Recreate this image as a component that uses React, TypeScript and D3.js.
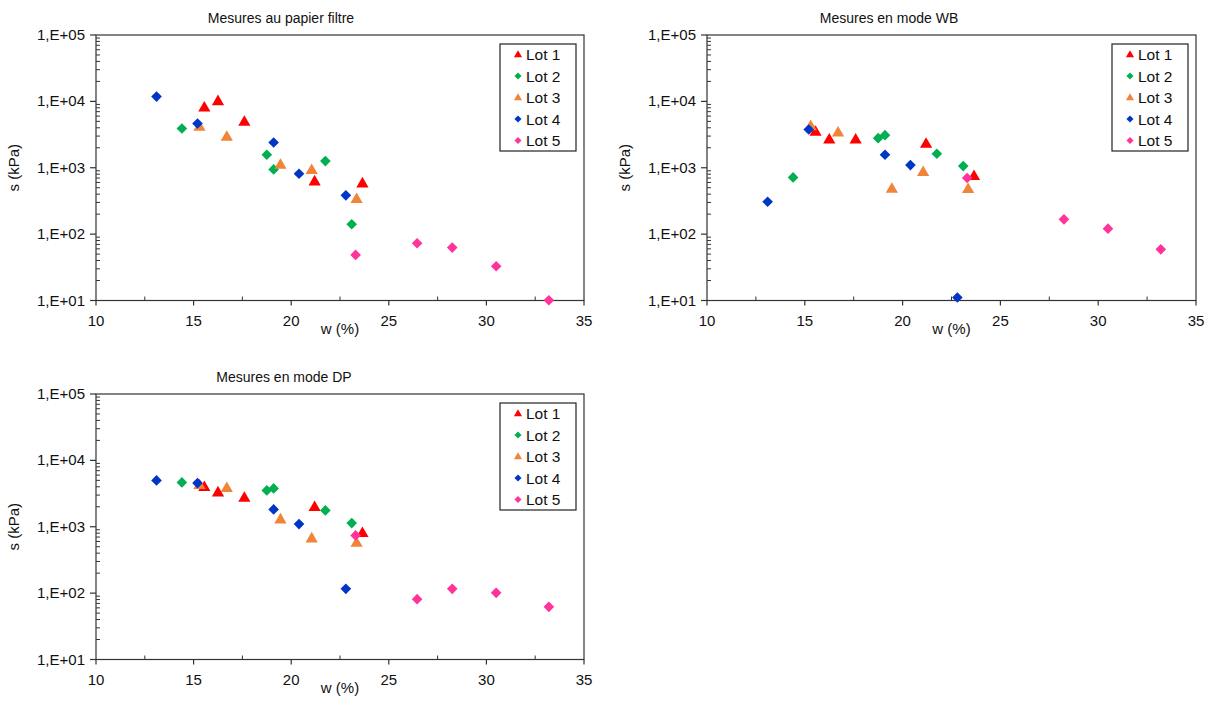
import React from "react";
import * as d3 from "d3";

const lots = ["Lot 1", "Lot 2", "Lot 3", "Lot 4", "Lot 5"];
const lotColors = ["#FF0000", "#00B050", "#F0853A", "#0036C8", "#FF3399"];
const lotShapes = ["triangle", "diamond", "triangle", "diamond", "diamond"];

// water content w (%) per lot (same samples for all three methods)
const wLot1 = [15.55, 16.25, 17.6, 21.2, 23.65];
const wLot2 = [14.4, 18.75, 19.1, 21.75, 23.1];
const wLot3 = [15.3, 16.7, 19.45, 21.05, 23.35];
const wLot4 = [13.1, 15.2, 19.1, 20.4, 22.8];
const wLot5 = [23.3, 26.45, 28.25, 30.5, 33.2];

// Suction s (kPa) - filter paper
const papierLot1 = [8070, 10070, 4920, 622, 581];
const papierLot2 = [3900, 1567, 944, 1260, 141];
const papierLot3 = [4140, 2925, 1110, 922, 338];
const papierLot4 = [11800, 4640, 2400, 813, 384];
const papierLot5 = [48.6, 72.8, 62.7, 32.8, 10.1];

// WB mode
const wbLot1 = [3480, 2667, 2667, 2296, 750];
const wbLot2 = [716, 2794, 3100, 1625, 1060];
const wbLot3 = [4235, 3400, 483, 861, 478];
const wbLot4 = [308, 3770, 1568, 1097, 11.1];
const wbW5 = [23.3, 28.25, 30.5, 33.2];
const wbLot5 = [700, 167, 121, 59];

// DP mode
const dpLot1 = [3963, 3294, 2737, 1980, 803];
const dpLot2 = [4660, 3530, 3785, 1763, 1136];
const dpLot3 = [4250, 3830, 1290, 667, 574];
const dpLot4 = [4990, 4550, 1825, 1097, 116];
const dpLot5 = [740, 81.2, 116, 101, 62.2];

const xTicks = [10, 15, 20, 25, 30, 35];
const xMinorTicks = [12.5, 17.5, 22.5, 27.5, 32.5];
const yTicks = [10, 100, 1000, 10000, 100000];
const yTickLabels = ["1,E+01", "1,E+02", "1,E+03", "1,E+04", "1,E+05"];

const titles = ["Mesures au papier filtre", "Mesures en mode WB", "Mesures en mode DP"];
const xLabel = "w (%)";
const yLabel = "s (kPa)";

type Series = { w: number[]; s: number[] };

const FONT = "'Liberation Sans', Arial, sans-serif";

function Marker({ shape, color, x, y, size }: { shape: string; color: string; x: number; y: number; size: number }) {
  const sym = shape === "triangle" ? d3.symbolTriangle : d3.symbolDiamond2;
  const area = shape === "triangle" ? size * size * 0.45 : size * size * 0.5;
  const path = d3.symbol().type(sym).size(area)() as string;
  const dy = shape === "triangle" ? 0.5 : 0;
  return <path d={path} transform={`translate(${x},${y + dy})`} fill={color} />;
}

function Panel({ x0, x1, y0, y1, title, titleX, series }: {
  x0: number; x1: number; y0: number; y1: number; title: string; titleX: number; series: Series[];
}) {
  const xs = d3.scaleLinear().domain([10, 35]).range([x0, x1]);
  const ys = d3.scaleLog().domain([10, 100000]).range([y1, y0]);
  const minorY: number[] = [];
  for (let p = 1; p < 5; p++) {
    for (let m = 2; m <= 9; m++) minorY.push(m * Math.pow(10, p));
  }
  const midX = (x0 + x1) / 2;
  const midY = (y0 + y1) / 2;
  const legX = x1 - 84;
  const legY = y0 + 9;
  return (
    <g fontFamily={FONT}>
      <text x={titleX} y={y0 - 12} textAnchor="middle" fontSize={14} fill="#111">{title}</text>
      <rect x={x0} y={y0} width={x1 - x0} height={y1 - y0} fill="none" stroke="#333" strokeWidth={1.2} />
      {minorY.map((v, i) => (
        <line key={"my" + i} x1={x0} x2={x0 + 4} y1={ys(v)} y2={ys(v)} stroke="#333" strokeWidth={1} />
      ))}
      {yTicks.map((v, i) => (
        <g key={"y" + i}>
          <line x1={x0 - 6} x2={x0} y1={ys(v)} y2={ys(v)} stroke="#333" strokeWidth={1.2} />
          <text x={x0 - 11} y={ys(v) + 5} textAnchor="end" fontSize={15} fill="#111">{yTickLabels[i]}</text>
        </g>
      ))}
      {xMinorTicks.map((v, i) => (
        <line key={"mx" + i} x1={xs(v)} x2={xs(v)} y1={y1 - 4} y2={y1} stroke="#333" strokeWidth={1} />
      ))}
      {xTicks.map((v, i) => (
        <g key={"x" + i}>
          <line x1={xs(v)} x2={xs(v)} y1={y1} y2={y1 + 5} stroke="#333" strokeWidth={1.2} />
          <text x={xs(v)} y={y1 + 25} textAnchor="middle" fontSize={15} fill="#111">{v}</text>
        </g>
      ))}
      <text x={midX} y={y1 + 33} textAnchor="middle" fontSize={15} fill="#111">{xLabel}</text>
      <text transform={`translate(${x0 - 77},${midY}) rotate(-90)`} textAnchor="middle" fontSize={15} fill="#111">{yLabel}</text>
      {series.map((ser, li) =>
        ser.w.map((w, j) => (
          <Marker key={li + "-" + j} shape={lotShapes[li]} color={lotColors[li]} x={xs(w)} y={ys(ser.s[j])} size={12} />
        ))
      )}
      <rect x={legX} y={legY} width={76} height={107} fill="#fff" stroke="#222" strokeWidth={1.2} />
      {lots.map((name, i) => (
        <g key={name}>
          <Marker shape={lotShapes[i]} color={lotColors[i]} x={legX + 18} y={legY + 10.5 + i * 21.5} size={8} />
          <text x={legX + 26} y={legY + 16 + i * 21.5} fontSize={15.5} fill="#111">{name}</text>
        </g>
      ))}
    </g>
  );
}

export default function App() {
  const papier: Series[] = [
    { w: wLot1, s: papierLot1 },
    { w: wLot2, s: papierLot2 },
    { w: wLot3, s: papierLot3 },
    { w: wLot4, s: papierLot4 },
    { w: wLot5, s: papierLot5 },
  ];
  const wb: Series[] = [
    { w: wLot1, s: wbLot1 },
    { w: wLot2, s: wbLot2 },
    { w: wLot3, s: wbLot3 },
    { w: wLot4, s: wbLot4 },
    { w: wbW5, s: wbLot5 },
  ];
  const dp: Series[] = [
    { w: wLot1, s: dpLot1 },
    { w: wLot2, s: dpLot2 },
    { w: wLot3, s: dpLot3 },
    { w: wLot4, s: dpLot4 },
    { w: wLot5, s: dpLot5 },
  ];
  return (
    <div style={{ position: "absolute", left: 0, top: 0 }}>
      <svg width={1214} height={702} style={{ display: "block", background: "#fff" }}>
        <Panel x0={96} x1={584} y0={35} y1={300.5} title={titles[0]} titleX={281} series={papier} />
        <Panel x0={707} x1={1196} y0={35} y1={300.5} title={titles[1]} titleX={889} series={wb} />
        <Panel x0={96} x1={584} y0={394} y1={659.5} title={titles[2]} titleX={284} series={dp} />
      </svg>
    </div>
  );
}
